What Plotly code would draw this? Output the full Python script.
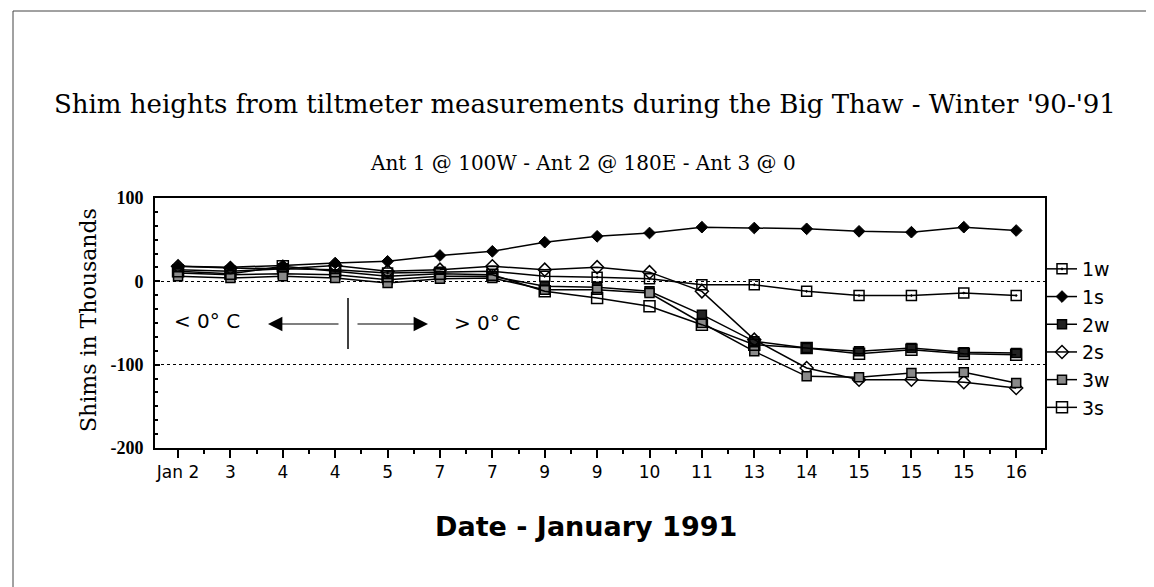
import plotly.graph_objects as go

# ---------------- data ----------------
date_labels = ["Jan 2", "3", "4", "4", "5", "7", "7", "9", "9", "10",
               "11", "13", "14", "15", "15", "15", "16"]
x_idx = list(range(len(date_labels)))

s1w = [14, 12, 15, 14, 10, 11, 12, 6, 5, 3, -4, -4, -12, -17, -17, -14, -17]
s1s = [18, 17, 19, 22, 24, 31, 36, 47, 54, 58, 65, 64, 63, 60, 59, 65, 61]
s2w = [10, 8, 9, 8, 2, 6, 6, -6, -7, -12, -40, -72, -80, -84, -80, -85, -86]
s2s = [18, 16, 15, 19, 12, 14, 18, 14, 17, 11, -12, -70, -104, -118, -118, -121, -128]
s3w = [6, 4, 6, 4, -2, 3, 4, -10, -10, -14, -50, -84, -114, -115, -110, -109, -122]
s3s = [12, 9, 18, 12, 6, 9, 8, -12, -20, -30, -52, -76, -80, -87, -82, -87, -88]

series_names = ["1w", "1s", "2w", "2s", "3w", "3s"]
series_values = [s1w, s1s, s2w, s2s, s3w, s3s]

y_ticks = [100, 0, -100, -200]

# ---------------- styles ----------------
marker_styles = {
    "1w": dict(symbol="square-open-dot", size=10, color="black", line=dict(width=1.5, color="black")),
    "1s": dict(symbol="diamond", size=9, color="black", line=dict(width=1, color="black")),
    "2w": dict(symbol="square", size=9, color="#222222", line=dict(width=1.5, color="black")),
    "2s": dict(symbol="diamond-open", size=10, color="black", line=dict(width=1.5, color="black")),
    "3w": dict(symbol="square", size=9, color="#8a8a8a", line=dict(width=1.5, color="black")),
    "3s": dict(symbol="square-open", size=11, color="black", line=dict(width=1.5, color="black")),
}

fig = go.Figure()
for name, vals in zip(series_names, series_values):
    fig.add_trace(go.Scatter(
        x=x_idx, y=vals, name=name, mode="lines+markers",
        line=dict(color="black", width=1.5),
        marker=marker_styles[name],
    ))

# plot area in pixels: x 147..1037, y 190..440
W, H = 1154, 587
L, R, T, B = 147, 1037, 190, 440


def px(x):
    return (x - L) / (R - L)


def py(y):
    return (B - y) / (B - T)


serif = "DejaVu Serif, Liberation Serif, serif"
bserif = "Liberation Serif, Times New Roman, serif"
sans = "DejaVu Sans, Liberation Sans, sans-serif"

annotations = [
    dict(text="Shim heights from tiltmeter measurements during the Big Thaw - Winter '90-'91",
         x=px(577), y=py(96), xref="paper", yref="paper", showarrow=False,
         font=dict(family=serif, size=26, color="black"), xanchor="center", yanchor="middle"),
    dict(text="Ant 1 @ 100W - Ant 2 @ 180E - Ant 3 @ 0",
         x=px(575), y=py(155), xref="paper", yref="paper", showarrow=False,
         font=dict(family=serif, size=20, color="black"), xanchor="center", yanchor="middle"),
    dict(text="<b>Date - January 1991</b>",
         x=px(578), y=py(518), xref="paper", yref="paper", showarrow=False,
         font=dict(family=sans, size=27, color="black"), xanchor="center", yanchor="middle"),
    dict(text="Shims in Thousands", textangle=-90,
         x=px(80), y=py(312), xref="paper", yref="paper", showarrow=False,
         font=dict(family=serif, size=22, color="black"), xanchor="center", yanchor="middle"),
    dict(text="< 0° C",
         x=px(199), y=py(313), xref="paper", yref="paper", showarrow=False,
         font=dict(family=sans, size=20, color="black"), xanchor="center", yanchor="middle"),
    dict(text="> 0° C",
         x=px(479), y=py(315), xref="paper", yref="paper", showarrow=False,
         font=dict(family=sans, size=20, color="black"), xanchor="center", yanchor="middle"),
    # arrows
    dict(text="", x=px(260), y=py(316), xref="paper", yref="paper",
         showarrow=True, ax=72, ay=0, arrowhead=2, arrowsize=2.4, arrowwidth=1.2, arrowcolor="black"),
    dict(text="", x=px(420), y=py(316), xref="paper", yref="paper",
         showarrow=True, ax=-72, ay=0, arrowhead=2, arrowsize=2.4, arrowwidth=1.2, arrowcolor="black"),
]

shapes = [
    # vertical divider
    dict(type="line", xref="paper", yref="paper", x0=px(340), x1=px(340), y0=py(290), y1=py(341),
         line=dict(color="black", width=1.5)),
    # outer border
    dict(type="rect", xref="paper", yref="paper", x0=px(5), x1=px(1150), y0=py(582), y1=py(3),
         line=dict(color="#444444", width=1), layer="below"),
]

fig.update_layout(
    width=W, height=H,
    margin=dict(l=L, r=W - R, t=T, b=H - B, pad=0),
    paper_bgcolor="white", plot_bgcolor="white",
    annotations=annotations, shapes=shapes,
    showlegend=True,
    legend=dict(x=px(1034), y=py(242), xanchor="left", yanchor="top",
                font=dict(family=sans, size=19, color="black"),
                bgcolor="rgba(0,0,0,0)", borderwidth=0, tracegroupgap=0),
    xaxis=dict(
        range=[-0.44, 16.55], tickmode="array", tickvals=x_idx, ticktext=date_labels,
        ticks="outside", ticklen=8, tickwidth=2, tickcolor="black",
        minor=dict(tickmode="linear", tick0=0, dtick=0.5, ticks="outside", ticklen=4,
                   tickwidth=1.5, tickcolor="black"),
        showline=True, linecolor="black", linewidth=2, mirror=True,
        showgrid=False, zeroline=False,
        tickfont=dict(family=sans, size=17, color="black"),
    ),
    yaxis=dict(
        range=[-200, 100], tickmode="array", tickvals=y_ticks,
        ticktext=[str(v) for v in y_ticks],
        ticks="inside", ticklen=5, tickwidth=2, tickcolor="black",
        minor=dict(tickmode="linear", tick0=0, dtick=100 / 6, ticks="inside", ticklen=3,
                   tickwidth=1.5, tickcolor="black"),
        showline=True, linecolor="black", linewidth=2, mirror=True,
        showgrid=True, gridcolor="black", griddash="dot", gridwidth=1.2,
        zeroline=False,
        tickfont=dict(family=bserif, size=18, color="black", weight="bold"),
        ticklabelstandoff=6,
    ),
)

fig.write_html("out.html")
